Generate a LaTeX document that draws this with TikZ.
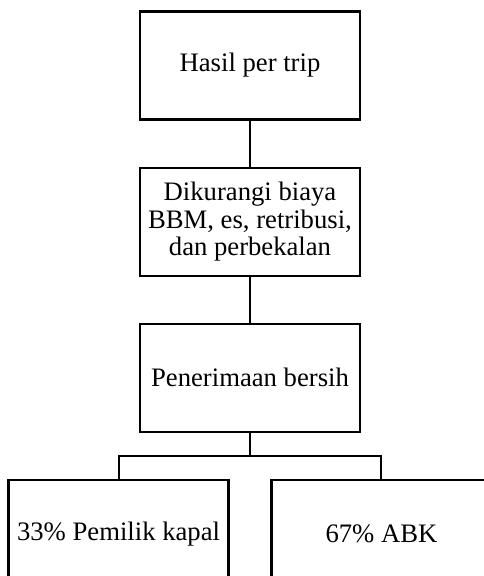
\documentclass[tikz,border=0pt]{standalone}
\usepackage{fontspec}
\setmainfont{Liberation Serif}
\usetikzlibrary{positioning}
\tikzset{
    kasten/.style={draw, line width=1.6pt, minimum width=165pt, minimum height=81pt,
        inner sep=2pt, align=center, font=\fontsize{20}{20.3}\selectfont},
    linie/.style={line width=1.5pt}
}
\begin{document}
\begin{tikzpicture}[node distance=34.5pt]
        % Rahmen
        \useasboundingbox (0, 0) rectangle (363pt, -432pt);
        % Kaesten
        \node[kasten] (hasil) at (187.5pt, -49.1pt) {Hasil per trip};
        \node[kasten, below=of hasil] (biaya) {Dikurangi biaya\\BBM, es, retribusi,\\dan perbekalan};
        \node[kasten, below=of biaya] (bersih) {Penerimaan bersih};
        \node[kasten, below=of bersih, xshift=-98.6pt] (pemilik) {33\% Pemilik kapal};
        \node[kasten, below=of bersih, xshift=98.6pt] (abk) {67\% ABK};
        % Verbindungen
        \draw[linie] (hasil) -- (biaya);
        \draw[linie] (biaya) -- (bersih);
        \draw[linie] (bersih.south) -- ++(0, -17.25pt) coordinate (gabel);
        \draw[linie] (gabel) -| (pemilik.north);
        \draw[linie] (gabel) -| (abk.north);
\end{tikzpicture}
\end{document}
